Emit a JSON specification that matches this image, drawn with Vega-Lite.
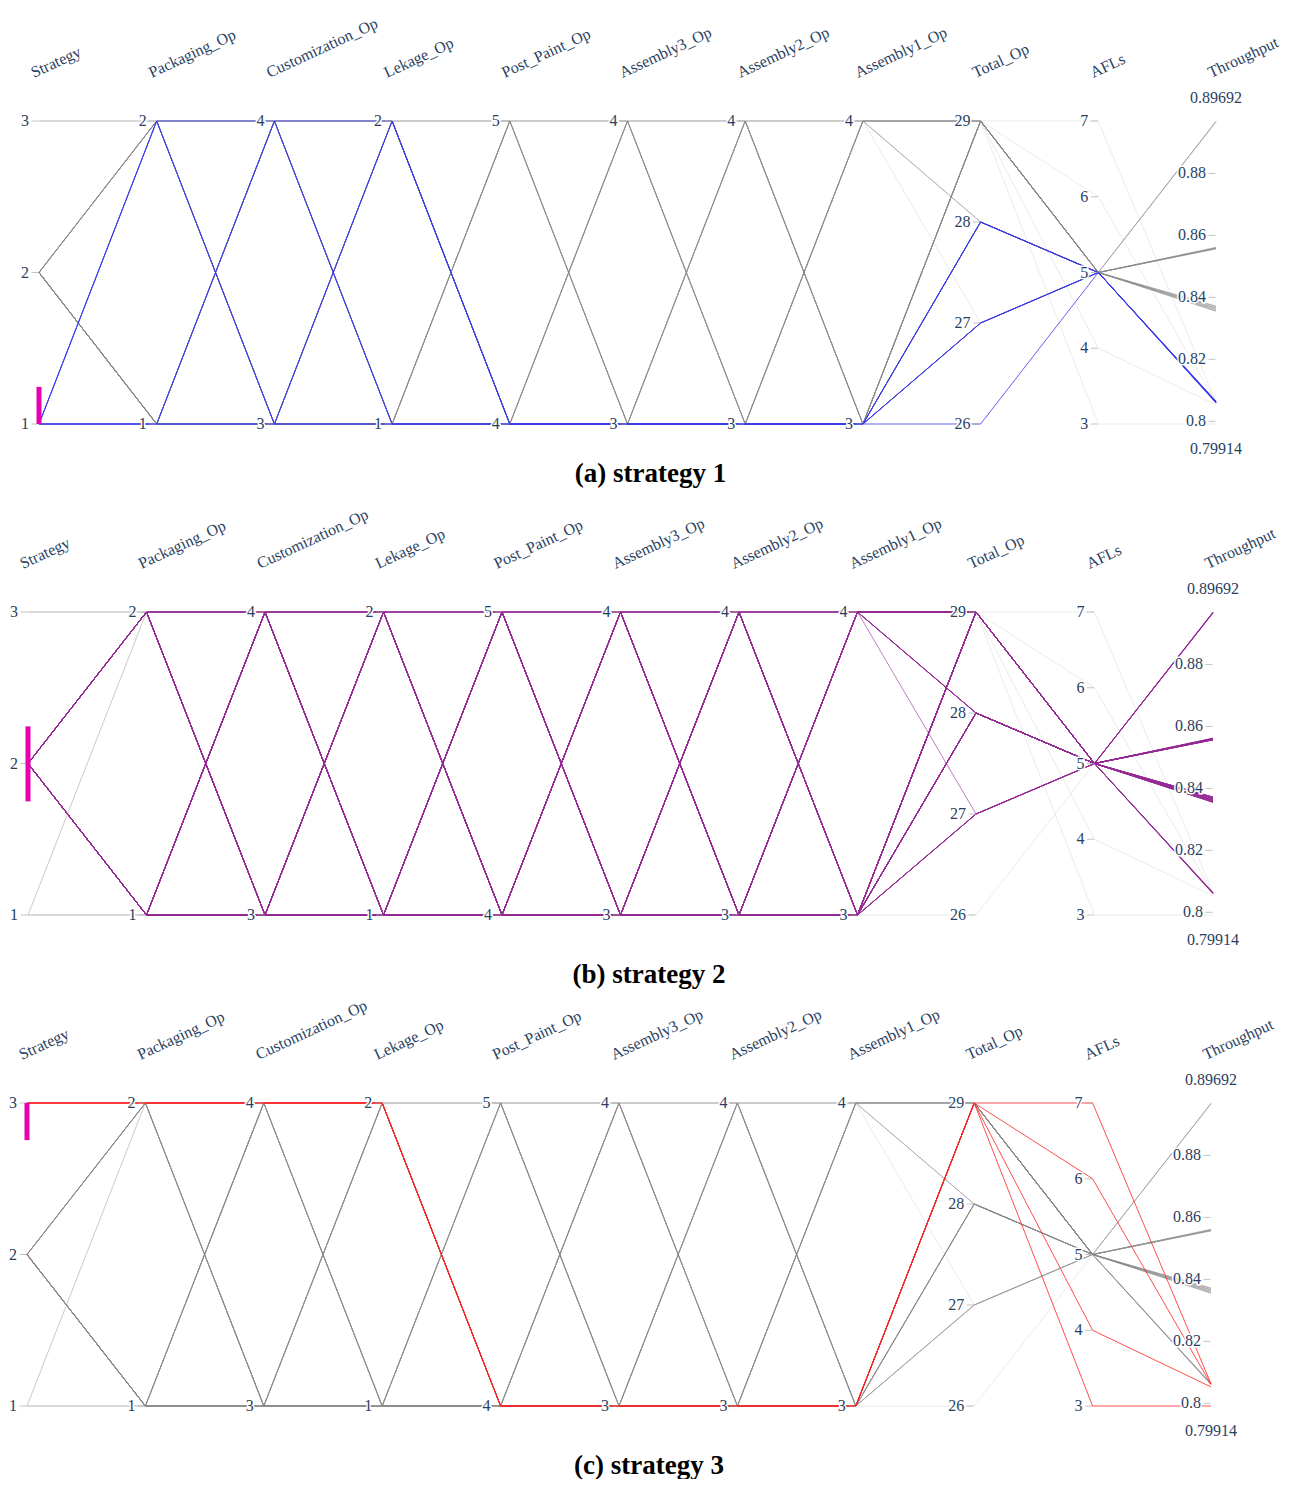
{
  "$schema": "https://vega.github.io/schema/vega-lite/v6.json",
  "background": "#ffffff",
  "padding": {"left": 9, "top": 15, "right": 0, "bottom": 0},
  "bounds": "flush",
  "spacing": 188,
  "datasets": {
    "axes": [
      {"key": "S", "name": "Strategy", "idx": 0, "min": 1, "max": 3},
      {"key": "P", "name": "Packaging_Op", "idx": 1, "min": 1, "max": 2},
      {"key": "C", "name": "Customization_Op", "idx": 2, "min": 3, "max": 4},
      {"key": "L", "name": "Lekage_Op", "idx": 3, "min": 1, "max": 2},
      {"key": "PP", "name": "Post_Paint_Op", "idx": 4, "min": 4, "max": 5},
      {"key": "A3", "name": "Assembly3_Op", "idx": 5, "min": 3, "max": 4},
      {"key": "A2", "name": "Assembly2_Op", "idx": 6, "min": 3, "max": 4},
      {"key": "A1", "name": "Assembly1_Op", "idx": 7, "min": 3, "max": 4},
      {"key": "T", "name": "Total_Op", "idx": 8, "min": 26, "max": 29},
      {"key": "AFL", "name": "AFLs", "idx": 9, "min": 3, "max": 7},
      {"key": "TH", "name": "Throughput", "idx": 10, "min": 0.79914, "max": 0.89692}
    ],
    "ticks": [
      {"key": "S", "value": 1, "label": "1"}, {"key": "S", "value": 2, "label": "2"}, {"key": "S", "value": 3, "label": "3"},
      {"key": "P", "value": 1, "label": "1"}, {"key": "P", "value": 2, "label": "2"},
      {"key": "C", "value": 3, "label": "3"}, {"key": "C", "value": 4, "label": "4"},
      {"key": "L", "value": 1, "label": "1"}, {"key": "L", "value": 2, "label": "2"},
      {"key": "PP", "value": 4, "label": "4"}, {"key": "PP", "value": 5, "label": "5"},
      {"key": "A3", "value": 3, "label": "3"}, {"key": "A3", "value": 4, "label": "4"},
      {"key": "A2", "value": 3, "label": "3"}, {"key": "A2", "value": 4, "label": "4"},
      {"key": "A1", "value": 3, "label": "3"}, {"key": "A1", "value": 4, "label": "4"},
      {"key": "T", "value": 26, "label": "26"}, {"key": "T", "value": 27, "label": "27"}, {"key": "T", "value": 28, "label": "28"}, {"key": "T", "value": 29, "label": "29"},
      {"key": "AFL", "value": 3, "label": "3"}, {"key": "AFL", "value": 4, "label": "4"}, {"key": "AFL", "value": 5, "label": "5"}, {"key": "AFL", "value": 6, "label": "6"}, {"key": "AFL", "value": 7, "label": "7"},
      {"key": "TH", "value": 0.8, "label": "0.8"}, {"key": "TH", "value": 0.82, "label": "0.82"}, {"key": "TH", "value": 0.84, "label": "0.84"}, {"key": "TH", "value": 0.86, "label": "0.86"}, {"key": "TH", "value": 0.88, "label": "0.88"}
    ],
    "ends": [
      {"key": "TH", "value": 0.89692, "label": "0.89692", "pos": "top"},
      {"key": "TH", "value": 0.79914, "label": "0.79914", "pos": "bottom"}
    ],
    "brush": [
      {"panel": 1, "key": "S", "lo": 1, "hi": 1.245},
      {"panel": 2, "key": "S", "lo": 1.75, "hi": 2.245},
      {"panel": 3, "key": "S", "lo": 2.755, "hi": 3}
    ],
    "runs": [
      {"S":1,"P":1,"C":3,"L":1,"PP":4,"A3":3,"A2":3,"A1":3,"T":26,"AFL":5,"TH":0.8062},
      {"S":1,"P":2,"C":3,"L":1,"PP":4,"A3":3,"A2":3,"A1":3,"T":27,"AFL":5,"TH":0.806},
      {"S":1,"P":1,"C":4,"L":1,"PP":4,"A3":3,"A2":3,"A1":3,"T":27,"AFL":5,"TH":0.8064},
      {"S":1,"P":1,"C":3,"L":2,"PP":4,"A3":3,"A2":3,"A1":3,"T":27,"AFL":5,"TH":0.8061},
      {"S":1,"P":2,"C":4,"L":1,"PP":4,"A3":3,"A2":3,"A1":3,"T":28,"AFL":5,"TH":0.8063},
      {"S":1,"P":2,"C":3,"L":2,"PP":4,"A3":3,"A2":3,"A1":3,"T":28,"AFL":5,"TH":0.8059},
      {"S":1,"P":1,"C":4,"L":2,"PP":4,"A3":3,"A2":3,"A1":3,"T":28,"AFL":5,"TH":0.8065},

      {"S":2,"P":2,"C":3,"L":1,"PP":4,"A3":3,"A2":3,"A1":3,"T":27,"AFL":5,"TH":0.8062},
      {"S":2,"P":1,"C":4,"L":1,"PP":4,"A3":3,"A2":3,"A1":3,"T":27,"AFL":5,"TH":0.8061},
      {"S":2,"P":1,"C":3,"L":2,"PP":4,"A3":3,"A2":3,"A1":3,"T":27,"AFL":5,"TH":0.8063},
      {"S":2,"P":1,"C":3,"L":1,"PP":5,"A3":3,"A2":3,"A1":3,"T":27,"AFL":5,"TH":0.8372},
      {"S":2,"P":1,"C":3,"L":1,"PP":4,"A3":4,"A2":3,"A1":3,"T":27,"AFL":5,"TH":0.8366},
      {"S":2,"P":1,"C":3,"L":1,"PP":4,"A3":3,"A2":4,"A1":3,"T":27,"AFL":5,"TH":0.8361},
      {"S":2,"P":1,"C":3,"L":1,"PP":4,"A3":3,"A2":3,"A1":4,"T":27,"AFL":5,"TH":0.8356},

      {"S":2,"P":2,"C":4,"L":1,"PP":4,"A3":3,"A2":3,"A1":3,"T":28,"AFL":5,"TH":0.806},
      {"S":2,"P":2,"C":3,"L":2,"PP":4,"A3":3,"A2":3,"A1":3,"T":28,"AFL":5,"TH":0.8064},
      {"S":2,"P":1,"C":4,"L":2,"PP":4,"A3":3,"A2":3,"A1":3,"T":28,"AFL":5,"TH":0.8062},
      {"S":2,"P":2,"C":3,"L":1,"PP":5,"A3":3,"A2":3,"A1":3,"T":28,"AFL":5,"TH":0.8371},
      {"S":2,"P":2,"C":3,"L":1,"PP":4,"A3":4,"A2":3,"A1":3,"T":28,"AFL":5,"TH":0.8367},
      {"S":2,"P":2,"C":3,"L":1,"PP":4,"A3":3,"A2":4,"A1":3,"T":28,"AFL":5,"TH":0.836},
      {"S":2,"P":2,"C":3,"L":1,"PP":4,"A3":3,"A2":3,"A1":4,"T":28,"AFL":5,"TH":0.8357},
      {"S":2,"P":1,"C":4,"L":1,"PP":5,"A3":3,"A2":3,"A1":3,"T":28,"AFL":5,"TH":0.8372},
      {"S":2,"P":1,"C":4,"L":1,"PP":4,"A3":4,"A2":3,"A1":3,"T":28,"AFL":5,"TH":0.8365},
      {"S":2,"P":1,"C":4,"L":1,"PP":4,"A3":3,"A2":4,"A1":3,"T":28,"AFL":5,"TH":0.8362},
      {"S":2,"P":1,"C":4,"L":1,"PP":4,"A3":3,"A2":3,"A1":4,"T":28,"AFL":5,"TH":0.8355},
      {"S":2,"P":1,"C":3,"L":2,"PP":5,"A3":3,"A2":3,"A1":3,"T":28,"AFL":5,"TH":0.837},
      {"S":2,"P":1,"C":3,"L":2,"PP":4,"A3":4,"A2":3,"A1":3,"T":28,"AFL":5,"TH":0.8366},
      {"S":2,"P":1,"C":3,"L":2,"PP":4,"A3":3,"A2":4,"A1":3,"T":28,"AFL":5,"TH":0.8361},
      {"S":2,"P":1,"C":3,"L":2,"PP":4,"A3":3,"A2":3,"A1":4,"T":28,"AFL":5,"TH":0.8356},
      {"S":2,"P":1,"C":3,"L":1,"PP":5,"A3":4,"A2":3,"A1":3,"T":28,"AFL":5,"TH":0.8562},
      {"S":2,"P":1,"C":3,"L":1,"PP":5,"A3":3,"A2":4,"A1":3,"T":28,"AFL":5,"TH":0.856},
      {"S":2,"P":1,"C":3,"L":1,"PP":5,"A3":3,"A2":3,"A1":4,"T":28,"AFL":5,"TH":0.8559},
      {"S":2,"P":1,"C":3,"L":1,"PP":4,"A3":4,"A2":4,"A1":3,"T":28,"AFL":5,"TH":0.8967},
      {"S":2,"P":1,"C":3,"L":1,"PP":4,"A3":4,"A2":3,"A1":4,"T":28,"AFL":5,"TH":0.8558},
      {"S":2,"P":1,"C":3,"L":1,"PP":4,"A3":3,"A2":4,"A1":4,"T":28,"AFL":5,"TH":0.8557},

      {"S":2,"P":2,"C":4,"L":2,"PP":4,"A3":3,"A2":3,"A1":3,"T":29,"AFL":5,"TH":0.8061},
      {"S":2,"P":2,"C":4,"L":1,"PP":5,"A3":3,"A2":3,"A1":3,"T":29,"AFL":5,"TH":0.8371},
      {"S":2,"P":2,"C":4,"L":1,"PP":4,"A3":4,"A2":3,"A1":3,"T":29,"AFL":5,"TH":0.8366},
      {"S":2,"P":2,"C":4,"L":1,"PP":4,"A3":3,"A2":4,"A1":3,"T":29,"AFL":5,"TH":0.836},
      {"S":2,"P":2,"C":4,"L":1,"PP":4,"A3":3,"A2":3,"A1":4,"T":29,"AFL":5,"TH":0.8357},
      {"S":2,"P":2,"C":3,"L":2,"PP":5,"A3":3,"A2":3,"A1":3,"T":29,"AFL":5,"TH":0.837},
      {"S":2,"P":2,"C":3,"L":2,"PP":4,"A3":4,"A2":3,"A1":3,"T":29,"AFL":5,"TH":0.8367},
      {"S":2,"P":2,"C":3,"L":2,"PP":4,"A3":3,"A2":4,"A1":3,"T":29,"AFL":5,"TH":0.8362},
      {"S":2,"P":2,"C":3,"L":2,"PP":4,"A3":3,"A2":3,"A1":4,"T":29,"AFL":5,"TH":0.8355},
      {"S":2,"P":1,"C":4,"L":2,"PP":5,"A3":3,"A2":3,"A1":3,"T":29,"AFL":5,"TH":0.8372},
      {"S":2,"P":1,"C":4,"L":2,"PP":4,"A3":4,"A2":3,"A1":3,"T":29,"AFL":5,"TH":0.8365},
      {"S":2,"P":1,"C":4,"L":2,"PP":4,"A3":3,"A2":4,"A1":3,"T":29,"AFL":5,"TH":0.8361},
      {"S":2,"P":1,"C":4,"L":2,"PP":4,"A3":3,"A2":3,"A1":4,"T":29,"AFL":5,"TH":0.8356},
      {"S":2,"P":2,"C":3,"L":1,"PP":5,"A3":4,"A2":3,"A1":3,"T":29,"AFL":5,"TH":0.8561},
      {"S":2,"P":2,"C":3,"L":1,"PP":5,"A3":3,"A2":4,"A1":3,"T":29,"AFL":5,"TH":0.856},
      {"S":2,"P":2,"C":3,"L":1,"PP":5,"A3":3,"A2":3,"A1":4,"T":29,"AFL":5,"TH":0.8558},
      {"S":2,"P":2,"C":3,"L":1,"PP":4,"A3":4,"A2":4,"A1":3,"T":29,"AFL":5,"TH":0.8966},
      {"S":2,"P":2,"C":3,"L":1,"PP":4,"A3":4,"A2":3,"A1":4,"T":29,"AFL":5,"TH":0.8557},
      {"S":2,"P":2,"C":3,"L":1,"PP":4,"A3":3,"A2":4,"A1":4,"T":29,"AFL":5,"TH":0.8557},
      {"S":2,"P":1,"C":4,"L":1,"PP":5,"A3":4,"A2":3,"A1":3,"T":29,"AFL":5,"TH":0.8562},
      {"S":2,"P":1,"C":4,"L":1,"PP":5,"A3":3,"A2":4,"A1":3,"T":29,"AFL":5,"TH":0.856},
      {"S":2,"P":1,"C":4,"L":1,"PP":5,"A3":3,"A2":3,"A1":4,"T":29,"AFL":5,"TH":0.8559},
      {"S":2,"P":1,"C":4,"L":1,"PP":4,"A3":4,"A2":4,"A1":3,"T":29,"AFL":5,"TH":0.8968},
      {"S":2,"P":1,"C":4,"L":1,"PP":4,"A3":4,"A2":3,"A1":4,"T":29,"AFL":5,"TH":0.8558},
      {"S":2,"P":1,"C":4,"L":1,"PP":4,"A3":3,"A2":4,"A1":4,"T":29,"AFL":5,"TH":0.8556},
      {"S":2,"P":1,"C":3,"L":2,"PP":5,"A3":4,"A2":3,"A1":3,"T":29,"AFL":5,"TH":0.8561},
      {"S":2,"P":1,"C":3,"L":2,"PP":5,"A3":3,"A2":4,"A1":3,"T":29,"AFL":5,"TH":0.8559},
      {"S":2,"P":1,"C":3,"L":2,"PP":5,"A3":3,"A2":3,"A1":4,"T":29,"AFL":5,"TH":0.8558},
      {"S":2,"P":1,"C":3,"L":2,"PP":4,"A3":4,"A2":4,"A1":3,"T":29,"AFL":5,"TH":0.8967},
      {"S":2,"P":1,"C":3,"L":2,"PP":4,"A3":4,"A2":3,"A1":4,"T":29,"AFL":5,"TH":0.8557},
      {"S":2,"P":1,"C":3,"L":2,"PP":4,"A3":3,"A2":4,"A1":4,"T":29,"AFL":5,"TH":0.8557},
      {"S":2,"P":1,"C":3,"L":1,"PP":5,"A3":4,"A2":4,"A1":3,"T":29,"AFL":5,"TH":0.8968},
      {"S":2,"P":1,"C":3,"L":1,"PP":5,"A3":4,"A2":3,"A1":4,"T":29,"AFL":5,"TH":0.8967},
      {"S":2,"P":1,"C":3,"L":1,"PP":5,"A3":3,"A2":4,"A1":4,"T":29,"AFL":5,"TH":0.8968},
      {"S":2,"P":1,"C":3,"L":1,"PP":4,"A3":4,"A2":4,"A1":4,"T":29,"AFL":5,"TH":0.89692},

      {"S":3,"P":2,"C":4,"L":2,"PP":4,"A3":3,"A2":3,"A1":3,"T":29,"AFL":7,"TH":0.8063},
      {"S":3,"P":2,"C":4,"L":2,"PP":4,"A3":3,"A2":3,"A1":3,"T":29,"AFL":6,"TH":0.8061},
      {"S":3,"P":2,"C":4,"L":2,"PP":4,"A3":3,"A2":3,"A1":3,"T":29,"AFL":4,"TH":0.8053},
      {"S":3,"P":2,"C":4,"L":2,"PP":4,"A3":3,"A2":3,"A1":3,"T":29,"AFL":3,"TH":0.79914}
    ]
  },
  "vconcat": [
    {
      "width": 1189,
      "height": 303,
      "title": {"text": "(a) strategy 1", "orient": "bottom", "anchor": "middle", "frame": "group", "baseline": "alphabetic", "offset": 25, "dx": 29, "font": "Liberation Serif", "fontSize": 27, "fontWeight": "bold", "color": "#000000"},
      "encoding": {
        "x": {"field": "key", "type": "nominal", "scale": {"type": "point", "domain": ["S","P","C","L","PP","A3","A2","A1","T","AFL","TH"], "range": [12, 1189], "padding": 0}, "axis": null},
        "y": {"field": "norm", "type": "quantitative", "scale": {"domain": [0, 1]}, "axis": null}
      },
      "layer": [
        {
          "data": {"name": "runs"},
          "transform": [
            {"window": [{"op": "row_number", "as": "id"}]},
            {"filter": "datum.S !== 1"},
            {"fold": ["S","P","C","L","PP","A3","A2","A1","T","AFL","TH"], "as": ["key", "value"]},
            {"lookup": "key", "from": {"data": {"name": "axes"}, "key": "key", "fields": ["idx", "min", "max"]}},
            {"calculate": "(datum.value - datum.min) / (datum.max - datum.min)", "as": "norm"}
          ],
          "mark": {"type": "line", "color": "#868686", "opacity": 0.17, "strokeWidth": 1},
          "encoding": {"detail": {"field": "id", "type": "nominal"}, "order": {"field": "idx", "type": "quantitative"}}
        },
        {
          "data": {"name": "runs"},
          "transform": [
            {"window": [{"op": "row_number", "as": "id"}]},
            {"filter": "datum.S === 1"},
            {"fold": ["S","P","C","L","PP","A3","A2","A1","T","AFL","TH"], "as": ["key", "value"]},
            {"lookup": "key", "from": {"data": {"name": "axes"}, "key": "key", "fields": ["idx", "min", "max"]}},
            {"calculate": "(datum.value - datum.min) / (datum.max - datum.min)", "as": "norm"}
          ],
          "mark": {"type": "line", "color": "#3a3aee", "opacity": 0.8, "strokeWidth": 1},
          "encoding": {"detail": {"field": "id", "type": "nominal"}, "order": {"field": "idx", "type": "quantitative"}}
        },
        {
          "data": {"name": "axes"},
          "mark": {"type": "rule", "color": "#c2c2c2", "strokeWidth": 2},
          "encoding": {"y": {"datum": 0}, "y2": {"datum": 1}}
        },
        {
          "data": {"name": "ticks"},
          "transform": [
            {"lookup": "key", "from": {"data": {"name": "axes"}, "key": "key", "fields": ["min", "max"]}},
            {"calculate": "(datum.value - datum.min) / (datum.max - datum.min)", "as": "norm"}
          ],
          "mark": {"type": "tick", "orient": "horizontal", "size": 7, "thickness": 1, "xOffset": -4, "color": "#aaaaaa"}
        },
        {
          "data": {"name": "ticks"},
          "transform": [
            {"lookup": "key", "from": {"data": {"name": "axes"}, "key": "key", "fields": ["min", "max"]}},
            {"calculate": "(datum.value - datum.min) / (datum.max - datum.min)", "as": "norm"}
          ],
          "mark": {"type": "text", "font": "Liberation Serif", "fontSize": 16, "align": "right", "baseline": "middle", "dx": -10, "color": "#ffffff", "stroke": "#ffffff", "strokeWidth": 3},
          "encoding": {"text": {"field": "label"}}
        },
        {
          "data": {"name": "ticks"},
          "transform": [
            {"lookup": "key", "from": {"data": {"name": "axes"}, "key": "key", "fields": ["min", "max"]}},
            {"calculate": "(datum.value - datum.min) / (datum.max - datum.min)", "as": "norm"}
          ],
          "mark": {"type": "text", "font": "Liberation Serif", "fontSize": 16, "align": "right", "baseline": "middle", "dx": -10, "color": "#2a3f5f"},
          "encoding": {"text": {"field": "label"}}
        },
        {
          "data": {"name": "ends"},
          "transform": [
            {"filter": "datum.pos === 'top'"},
            {"lookup": "key", "from": {"data": {"name": "axes"}, "key": "key", "fields": ["min", "max"]}},
            {"calculate": "(datum.value - datum.min) / (datum.max - datum.min)", "as": "norm"}
          ],
          "mark": {"type": "text", "font": "Liberation Serif", "fontSize": 16, "align": "center", "baseline": "middle", "dy": -23, "color": "#2a3f5f"},
          "encoding": {"text": {"field": "label"}}
        },
        {
          "data": {"name": "ends"},
          "transform": [
            {"filter": "datum.pos === 'bottom'"},
            {"lookup": "key", "from": {"data": {"name": "axes"}, "key": "key", "fields": ["min", "max"]}},
            {"calculate": "(datum.value - datum.min) / (datum.max - datum.min)", "as": "norm"}
          ],
          "mark": {"type": "text", "font": "Liberation Serif", "fontSize": 16, "align": "center", "baseline": "middle", "dy": 25, "color": "#2a3f5f"},
          "encoding": {"text": {"field": "label"}}
        },
        {
          "data": {"name": "axes"},
          "transform": [
            {"calculate": "(datum.max - datum.min) / (datum.max - datum.min)", "as": "norm"}
          ],
          "mark": {"type": "text", "font": "Liberation Serif", "fontSize": 16, "align": "left", "baseline": "alphabetic", "angle": 335, "dx": 13.6, "dy": -41, "color": "#2a3f5f"},
          "encoding": {"text": {"field": "name", "type": "nominal"}}
        },
        {
          "data": {"name": "brush"},
          "transform": [
            {"filter": "datum.panel === 1"},
            {"lookup": "key", "from": {"data": {"name": "axes"}, "key": "key", "fields": ["min", "max"]}},
            {"calculate": "(datum.lo - datum.min) / (datum.max - datum.min)", "as": "lo_n"},
            {"calculate": "(datum.hi - datum.min) / (datum.max - datum.min)", "as": "hi_n"}
          ],
          "mark": {"type": "rule", "color": "#e600b0", "strokeWidth": 5},
          "encoding": {"y": {"field": "lo_n", "type": "quantitative"}, "y2": {"field": "hi_n"}}
        }
      ]
    },
    {
      "width": 1186,
      "height": 303,
      "title": {"text": "(b) strategy 2", "orient": "bottom", "anchor": "middle", "frame": "group", "baseline": "alphabetic", "offset": 35, "dx": 29, "font": "Liberation Serif", "fontSize": 27, "fontWeight": "bold", "color": "#000000"},
      "encoding": {
        "x": {"field": "key", "type": "nominal", "scale": {"type": "point", "domain": ["S","P","C","L","PP","A3","A2","A1","T","AFL","TH"], "range": [1, 1186], "padding": 0}, "axis": null},
        "y": {"field": "norm", "type": "quantitative", "scale": {"domain": [0, 1]}, "axis": null}
      },
      "layer": [
        {
          "data": {"name": "runs"},
          "transform": [
            {"window": [{"op": "row_number", "as": "id"}]},
            {"filter": "datum.S !== 2"},
            {"fold": ["S","P","C","L","PP","A3","A2","A1","T","AFL","TH"], "as": ["key", "value"]},
            {"lookup": "key", "from": {"data": {"name": "axes"}, "key": "key", "fields": ["idx", "min", "max"]}},
            {"calculate": "(datum.value - datum.min) / (datum.max - datum.min)", "as": "norm"}
          ],
          "mark": {"type": "line", "color": "#868686", "opacity": 0.17, "strokeWidth": 1},
          "encoding": {"detail": {"field": "id", "type": "nominal"}, "order": {"field": "idx", "type": "quantitative"}}
        },
        {
          "data": {"name": "runs"},
          "transform": [
            {"window": [{"op": "row_number", "as": "id"}]},
            {"filter": "datum.S === 2"},
            {"fold": ["S","P","C","L","PP","A3","A2","A1","T","AFL","TH"], "as": ["key", "value"]},
            {"lookup": "key", "from": {"data": {"name": "axes"}, "key": "key", "fields": ["idx", "min", "max"]}},
            {"calculate": "(datum.value - datum.min) / (datum.max - datum.min)", "as": "norm"}
          ],
          "mark": {"type": "line", "color": "#952a95", "opacity": 0.6, "strokeWidth": 1},
          "encoding": {"detail": {"field": "id", "type": "nominal"}, "order": {"field": "idx", "type": "quantitative"}}
        },
        {
          "data": {"name": "axes"},
          "mark": {"type": "rule", "color": "#c2c2c2", "strokeWidth": 2},
          "encoding": {"y": {"datum": 0}, "y2": {"datum": 1}}
        },
        {
          "data": {"name": "ticks"},
          "transform": [
            {"lookup": "key", "from": {"data": {"name": "axes"}, "key": "key", "fields": ["min", "max"]}},
            {"calculate": "(datum.value - datum.min) / (datum.max - datum.min)", "as": "norm"}
          ],
          "mark": {"type": "tick", "orient": "horizontal", "size": 7, "thickness": 1, "xOffset": -4, "color": "#aaaaaa"}
        },
        {
          "data": {"name": "ticks"},
          "transform": [
            {"lookup": "key", "from": {"data": {"name": "axes"}, "key": "key", "fields": ["min", "max"]}},
            {"calculate": "(datum.value - datum.min) / (datum.max - datum.min)", "as": "norm"}
          ],
          "mark": {"type": "text", "font": "Liberation Serif", "fontSize": 16, "align": "right", "baseline": "middle", "dx": -10, "color": "#ffffff", "stroke": "#ffffff", "strokeWidth": 3},
          "encoding": {"text": {"field": "label"}}
        },
        {
          "data": {"name": "ticks"},
          "transform": [
            {"lookup": "key", "from": {"data": {"name": "axes"}, "key": "key", "fields": ["min", "max"]}},
            {"calculate": "(datum.value - datum.min) / (datum.max - datum.min)", "as": "norm"}
          ],
          "mark": {"type": "text", "font": "Liberation Serif", "fontSize": 16, "align": "right", "baseline": "middle", "dx": -10, "color": "#2a3f5f"},
          "encoding": {"text": {"field": "label"}}
        },
        {
          "data": {"name": "ends"},
          "transform": [
            {"filter": "datum.pos === 'top'"},
            {"lookup": "key", "from": {"data": {"name": "axes"}, "key": "key", "fields": ["min", "max"]}},
            {"calculate": "(datum.value - datum.min) / (datum.max - datum.min)", "as": "norm"}
          ],
          "mark": {"type": "text", "font": "Liberation Serif", "fontSize": 16, "align": "center", "baseline": "middle", "dy": -23, "color": "#2a3f5f"},
          "encoding": {"text": {"field": "label"}}
        },
        {
          "data": {"name": "ends"},
          "transform": [
            {"filter": "datum.pos === 'bottom'"},
            {"lookup": "key", "from": {"data": {"name": "axes"}, "key": "key", "fields": ["min", "max"]}},
            {"calculate": "(datum.value - datum.min) / (datum.max - datum.min)", "as": "norm"}
          ],
          "mark": {"type": "text", "font": "Liberation Serif", "fontSize": 16, "align": "center", "baseline": "middle", "dy": 25, "color": "#2a3f5f"},
          "encoding": {"text": {"field": "label"}}
        },
        {
          "data": {"name": "axes"},
          "transform": [
            {"calculate": "(datum.max - datum.min) / (datum.max - datum.min)", "as": "norm"}
          ],
          "mark": {"type": "text", "font": "Liberation Serif", "fontSize": 16, "align": "left", "baseline": "alphabetic", "angle": 335, "dx": 13.6, "dy": -41, "color": "#2a3f5f"},
          "encoding": {"text": {"field": "name", "type": "nominal"}}
        },
        {
          "data": {"name": "brush"},
          "transform": [
            {"filter": "datum.panel === 2"},
            {"lookup": "key", "from": {"data": {"name": "axes"}, "key": "key", "fields": ["min", "max"]}},
            {"calculate": "(datum.lo - datum.min) / (datum.max - datum.min)", "as": "lo_n"},
            {"calculate": "(datum.hi - datum.min) / (datum.max - datum.min)", "as": "hi_n"}
          ],
          "mark": {"type": "rule", "color": "#e600b0", "strokeWidth": 5},
          "encoding": {"y": {"field": "lo_n", "type": "quantitative"}, "y2": {"field": "hi_n"}}
        }
      ]
    },
    {
      "width": 1184,
      "height": 303,
      "title": {"text": "(c) strategy 3", "orient": "bottom", "anchor": "middle", "frame": "group", "baseline": "alphabetic", "offset": 35, "dx": 30, "font": "Liberation Serif", "fontSize": 27, "fontWeight": "bold", "color": "#000000"},
      "encoding": {
        "x": {"field": "key", "type": "nominal", "scale": {"type": "point", "domain": ["S","P","C","L","PP","A3","A2","A1","T","AFL","TH"], "range": [0, 1184], "padding": 0}, "axis": null},
        "y": {"field": "norm", "type": "quantitative", "scale": {"domain": [0, 1]}, "axis": null}
      },
      "layer": [
        {
          "data": {"name": "runs"},
          "transform": [
            {"window": [{"op": "row_number", "as": "id"}]},
            {"filter": "datum.S !== 3"},
            {"fold": ["S","P","C","L","PP","A3","A2","A1","T","AFL","TH"], "as": ["key", "value"]},
            {"lookup": "key", "from": {"data": {"name": "axes"}, "key": "key", "fields": ["idx", "min", "max"]}},
            {"calculate": "(datum.value - datum.min) / (datum.max - datum.min)", "as": "norm"}
          ],
          "mark": {"type": "line", "color": "#868686", "opacity": 0.17, "strokeWidth": 1},
          "encoding": {"detail": {"field": "id", "type": "nominal"}, "order": {"field": "idx", "type": "quantitative"}}
        },
        {
          "data": {"name": "runs"},
          "transform": [
            {"window": [{"op": "row_number", "as": "id"}]},
            {"filter": "datum.S === 3"},
            {"fold": ["S","P","C","L","PP","A3","A2","A1","T","AFL","TH"], "as": ["key", "value"]},
            {"lookup": "key", "from": {"data": {"name": "axes"}, "key": "key", "fields": ["idx", "min", "max"]}},
            {"calculate": "(datum.value - datum.min) / (datum.max - datum.min)", "as": "norm"}
          ],
          "mark": {"type": "line", "color": "#ff2020", "opacity": 0.8, "strokeWidth": 1},
          "encoding": {"detail": {"field": "id", "type": "nominal"}, "order": {"field": "idx", "type": "quantitative"}}
        },
        {
          "data": {"name": "axes"},
          "mark": {"type": "rule", "color": "#c2c2c2", "strokeWidth": 2},
          "encoding": {"y": {"datum": 0}, "y2": {"datum": 1}}
        },
        {
          "data": {"name": "ticks"},
          "transform": [
            {"lookup": "key", "from": {"data": {"name": "axes"}, "key": "key", "fields": ["min", "max"]}},
            {"calculate": "(datum.value - datum.min) / (datum.max - datum.min)", "as": "norm"}
          ],
          "mark": {"type": "tick", "orient": "horizontal", "size": 7, "thickness": 1, "xOffset": -4, "color": "#aaaaaa"}
        },
        {
          "data": {"name": "ticks"},
          "transform": [
            {"lookup": "key", "from": {"data": {"name": "axes"}, "key": "key", "fields": ["min", "max"]}},
            {"calculate": "(datum.value - datum.min) / (datum.max - datum.min)", "as": "norm"}
          ],
          "mark": {"type": "text", "font": "Liberation Serif", "fontSize": 16, "align": "right", "baseline": "middle", "dx": -10, "color": "#ffffff", "stroke": "#ffffff", "strokeWidth": 3},
          "encoding": {"text": {"field": "label"}}
        },
        {
          "data": {"name": "ticks"},
          "transform": [
            {"lookup": "key", "from": {"data": {"name": "axes"}, "key": "key", "fields": ["min", "max"]}},
            {"calculate": "(datum.value - datum.min) / (datum.max - datum.min)", "as": "norm"}
          ],
          "mark": {"type": "text", "font": "Liberation Serif", "fontSize": 16, "align": "right", "baseline": "middle", "dx": -10, "color": "#2a3f5f"},
          "encoding": {"text": {"field": "label"}}
        },
        {
          "data": {"name": "ends"},
          "transform": [
            {"filter": "datum.pos === 'top'"},
            {"lookup": "key", "from": {"data": {"name": "axes"}, "key": "key", "fields": ["min", "max"]}},
            {"calculate": "(datum.value - datum.min) / (datum.max - datum.min)", "as": "norm"}
          ],
          "mark": {"type": "text", "font": "Liberation Serif", "fontSize": 16, "align": "center", "baseline": "middle", "dy": -23, "color": "#2a3f5f"},
          "encoding": {"text": {"field": "label"}}
        },
        {
          "data": {"name": "ends"},
          "transform": [
            {"filter": "datum.pos === 'bottom'"},
            {"lookup": "key", "from": {"data": {"name": "axes"}, "key": "key", "fields": ["min", "max"]}},
            {"calculate": "(datum.value - datum.min) / (datum.max - datum.min)", "as": "norm"}
          ],
          "mark": {"type": "text", "font": "Liberation Serif", "fontSize": 16, "align": "center", "baseline": "middle", "dy": 25, "color": "#2a3f5f"},
          "encoding": {"text": {"field": "label"}}
        },
        {
          "data": {"name": "axes"},
          "transform": [
            {"calculate": "(datum.max - datum.min) / (datum.max - datum.min)", "as": "norm"}
          ],
          "mark": {"type": "text", "font": "Liberation Serif", "fontSize": 16, "align": "left", "baseline": "alphabetic", "angle": 335, "dx": 13.6, "dy": -41, "color": "#2a3f5f"},
          "encoding": {"text": {"field": "name", "type": "nominal"}}
        },
        {
          "data": {"name": "brush"},
          "transform": [
            {"filter": "datum.panel === 3"},
            {"lookup": "key", "from": {"data": {"name": "axes"}, "key": "key", "fields": ["min", "max"]}},
            {"calculate": "(datum.lo - datum.min) / (datum.max - datum.min)", "as": "lo_n"},
            {"calculate": "(datum.hi - datum.min) / (datum.max - datum.min)", "as": "hi_n"}
          ],
          "mark": {"type": "rule", "color": "#e600b0", "strokeWidth": 5},
          "encoding": {"y": {"field": "lo_n", "type": "quantitative"}, "y2": {"field": "hi_n"}}
        }
      ]
    }
  ],
  "config": {
    "view": {"stroke": null}
  }
}
